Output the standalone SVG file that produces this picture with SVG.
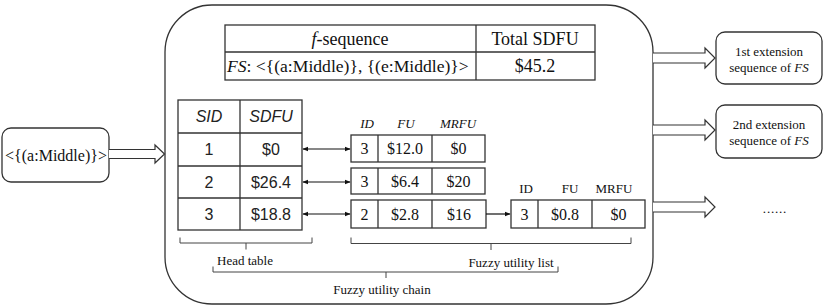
<svg xmlns="http://www.w3.org/2000/svg" width="830" height="308" viewBox="0 0 830 308">
<defs>
<style>
.ln{fill:none;stroke:#333;stroke-width:1.3}
.bx{fill:#fff;stroke:#333;stroke-width:1.3}
.br{fill:none;stroke:#444;stroke-width:1}
.c{text-anchor:middle}
.blk{fill:#fff;stroke:#333;stroke-width:1.2}
</style>
<marker id="ah" viewBox="0 0 10 10" refX="9" refY="5" markerWidth="6" markerHeight="6" orient="auto-start-reverse" markerUnits="userSpaceOnUse">
<path d="M0,1 L10,5 L0,9 Z" fill="#111"/>
</marker>
</defs>
<rect width="830" height="308" fill="#fff"/>

<g id="container">
<rect class="bx" x="165" y="5" width="488" height="299" rx="47" ry="47"/>
</g>

<g font-family="'Liberation Serif', 'Times New Roman', serif" fill="#111">
<g id="input-node">
<rect class="bx" x="2" y="128" width="107" height="54" rx="9"/>
<text class="c" x="56" y="161" font-size="16">&lt;{(a:Middle)}&gt;</text>
</g>

<g id="fsequence-table">
<rect class="bx" x="225" y="25" width="370" height="55"/>
<line class="ln" x1="225" y1="52" x2="595" y2="52"/>
<line class="ln" x1="476" y1="25" x2="476" y2="80"/>
<text class="c" x="350" y="45" font-size="18"><tspan font-style="italic">f</tspan>-sequence</text>
<text class="c" x="535" y="45" font-size="18">Total SDFU</text>
<text x="227" y="72" font-size="17.6"><tspan font-style="italic">FS</tspan>: &lt;{(a:Middle)}, {(e:Middle)}&gt;</text>
<text class="c" x="535" y="72" font-size="18">$45.2</text>
</g>
</g>

<g id="head-table" font-family="'Liberation Sans', Arial, sans-serif" fill="#222">
<rect class="bx" x="178" y="100" width="124" height="130"/>
<line class="ln" x1="240" y1="100" x2="240" y2="230"/>
<line class="ln" x1="178" y1="133" x2="302" y2="133"/>
<line class="ln" x1="178" y1="166" x2="302" y2="166"/>
<line class="ln" x1="178" y1="198" x2="302" y2="198"/>
<text class="c" font-style="italic" x="209" y="122" font-size="16">SID</text>
<text class="c" font-style="italic" x="271" y="122" font-size="16">SDFU</text>
<text class="c" x="209" y="155" font-size="16">1</text>
<text class="c" x="271" y="155" font-size="16">$0</text>
<text class="c" x="209" y="188" font-size="16">2</text>
<text class="c" x="271" y="188" font-size="16">$26.4</text>
<text class="c" x="209" y="220" font-size="16">3</text>
<text class="c" x="271" y="220" font-size="16">$18.8</text>
</g>

<g font-family="'Liberation Serif', 'Times New Roman', serif" fill="#111">
<g id="list-headers">
<text class="c" font-style="italic" x="367" y="128" font-size="13">ID</text>
<text class="c" font-style="italic" x="406" y="128" font-size="13">FU</text>
<text class="c" font-style="italic" x="458" y="128" font-size="13">MRFU</text>
</g>

<g id="list-row-1">
<rect class="bx" x="351" y="135" width="134" height="27"/>
<line class="ln" x1="378" y1="135" x2="378" y2="162"/>
<line class="ln" x1="432" y1="135" x2="432" y2="162"/>
<text class="c" x="364.5" y="154" font-size="16">3</text>
<text class="c" x="405" y="154" font-size="16">$12.0</text>
<text class="c" x="458.5" y="154" font-size="16">$0</text>
</g>

<g id="list-row-2">
<rect class="bx" x="351" y="168" width="134" height="26"/>
<line class="ln" x1="378" y1="168" x2="378" y2="194"/>
<line class="ln" x1="432" y1="168" x2="432" y2="194"/>
<text class="c" x="364.5" y="187" font-size="16">3</text>
<text class="c" x="405" y="187" font-size="16">$6.4</text>
<text class="c" x="458.5" y="187" font-size="16">$20</text>
</g>

<g id="list-row-3">
<rect class="bx" x="351" y="200" width="135" height="28"/>
<line class="ln" x1="378" y1="200" x2="378" y2="228"/>
<line class="ln" x1="432" y1="200" x2="432" y2="228"/>
<text class="c" x="364.5" y="220" font-size="16">2</text>
<text class="c" x="405" y="220" font-size="16">$2.8</text>
<text class="c" x="459" y="220" font-size="16">$16</text>
</g>

<g id="list-row-3b">
<text class="c" x="526" y="193" font-size="13">ID</text>
<text class="c" x="570" y="193" font-size="13">FU</text>
<text class="c" x="614" y="193" font-size="13">MRFU</text>
<rect class="bx" x="511" y="200" width="134" height="28"/>
<line class="ln" x1="538" y1="200" x2="538" y2="228"/>
<line class="ln" x1="592" y1="200" x2="592" y2="228"/>
<text class="c" x="524.5" y="220" font-size="16">3</text>
<text class="c" x="565" y="220" font-size="16">$0.8</text>
<text class="c" x="618.5" y="220" font-size="16">$0</text>
</g>

<g id="ext-node-1">
<rect class="bx" x="716" y="32" width="106" height="52" rx="9"/>
<text class="c" x="769" y="56" font-size="13">1st extension</text>
<text class="c" x="769" y="72" font-size="13">sequence of <tspan font-style="italic">FS</tspan></text>
</g>

<g id="ext-node-2">
<rect class="bx" x="716" y="105" width="106" height="53" rx="9"/>
<text class="c" x="769" y="129" font-size="13">2nd extension</text>
<text class="c" x="769" y="145" font-size="13">sequence of <tspan font-style="italic">FS</tspan></text>
</g>

<g id="ellipsis">
<text class="c" x="775" y="213" font-size="13" letter-spacing="0.8">......</text>
</g>

<g id="bracket-labels">
<text x="217" y="265" font-size="13">Head table</text>
<text class="c" x="511" y="267" font-size="13">Fuzzy utility list</text>
<text class="c" x="382" y="294" font-size="13">Fuzzy utility chain</text>
</g>
</g>

<g id="connectors">
<path class="blk" d="M109,149.5 H155 V145 L164.5,154 L155,163 V158.5 H109"/>
<path class="blk" d="M653,53 H705 V48 L715,58 L705,68 V63 H653"/>
<path class="blk" d="M653,125 H705 V120 L715,130 L705,140 V135 H653"/>
<path class="blk" d="M653,202 H705 V197 L715,207 L705,217 V212 H653"/>
<line x1="303" y1="149" x2="350" y2="149" stroke="#111" stroke-width="1.2" marker-start="url(#ah)" marker-end="url(#ah)"/>
<line x1="303" y1="182" x2="350" y2="182" stroke="#111" stroke-width="1.2" marker-start="url(#ah)" marker-end="url(#ah)"/>
<line x1="303" y1="214" x2="350" y2="214" stroke="#111" stroke-width="1.2" marker-start="url(#ah)" marker-end="url(#ah)"/>
<line x1="486" y1="214" x2="510" y2="214" stroke="#111" stroke-width="1.2" marker-end="url(#ah)"/>
</g>

<g id="brackets">
<path class="br" d="M180,237.5 V243 H312 V237.5 M246,243 V249.5"/>
<path class="br" d="M351,237.5 V243.5 H631 V237.5 M491,243.5 V250"/>
<path class="br" d="M213,266.5 V272 H558 V266.5 M386,272 V278"/>
</g>
</svg>
